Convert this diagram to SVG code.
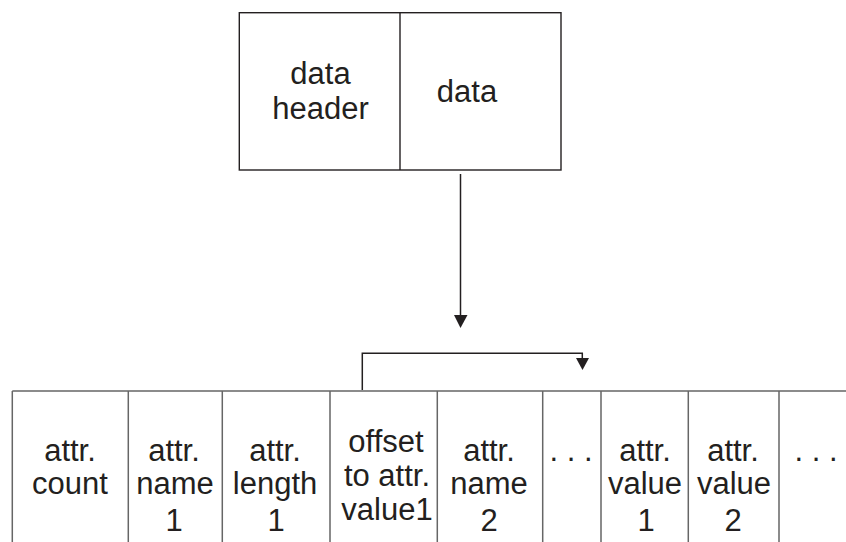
<svg xmlns="http://www.w3.org/2000/svg" width="846" height="542" viewBox="0 0 846 542">
<style>
text{font-family:"Liberation Sans",Arial,sans-serif;font-size:31px;fill:#231f20;text-anchor:middle}
.box{fill:none;stroke:#231f20;stroke-width:1.4}
.tbl{fill:none;stroke:#666;stroke-width:1.5}
.conn{fill:none;stroke:#231f20;stroke-width:1.5}
.head{fill:#231f20}
</style>
<rect width="846" height="542" fill="#fff"/>
<g id="data-block">
<rect class="box" x="239.3" y="12.7" width="321.7" height="157.3"/>
<line class="box" x1="400" y1="12.7" x2="400" y2="170"/>
<g id="data-header"><text x="320.5" y="84">data</text><text x="320.5" y="119">header</text></g>
<g id="data"><text x="467" y="102">data</text></g>
</g>
<g id="connectors">
<line class="conn" x1="460.5" y1="174" x2="460.5" y2="316"/>
<polygon class="head" points="454,315 467.5,315 460.5,328"/>
<path class="conn" d="M362.3,390 V353.3 H582.3 V359"/>
<polygon class="head" points="576,358 589,358 582.5,370"/>
</g>
<g id="table">
<path class="tbl" d="M12.3,391 H846 M12.3,391 V542 M128.3,391 V542 M222.3,391 V542 M330,391 V542 M437.3,391 V542 M542.7,391 V542 M601,391 V542 M688.3,391 V542 M779,391 V542"/>
<g id="attr-count"><text x="70" y="461">attr.</text><text x="70" y="494">count</text></g>
<g id="attr-name-1"><text x="174" y="461">attr.</text><text x="175" y="494">name</text><text x="174" y="531">1</text></g>
<g id="attr-length-1"><text x="275" y="461">attr.</text><text x="275" y="494">length</text><text x="276" y="531">1</text></g>
<g id="offset"><text x="386" y="452">offset</text><text x="387" y="486">to attr.</text><text x="387" y="520">value1</text></g>
<g id="attr-name-2"><text x="489" y="461">attr.</text><text x="489" y="494">name</text><text x="489" y="531">2</text></g>
<g id="dots1"><text x="571" y="461">. . .</text></g>
<g id="attr-value-1"><text x="645" y="461">attr.</text><text x="645" y="494">value</text><text x="646" y="531">1</text></g>
<g id="attr-value-2"><text x="733" y="461">attr.</text><text x="734" y="494">value</text><text x="733" y="531">2</text></g>
<g id="dots2"><text x="816" y="461">. . .</text></g>
</g>
</svg>
